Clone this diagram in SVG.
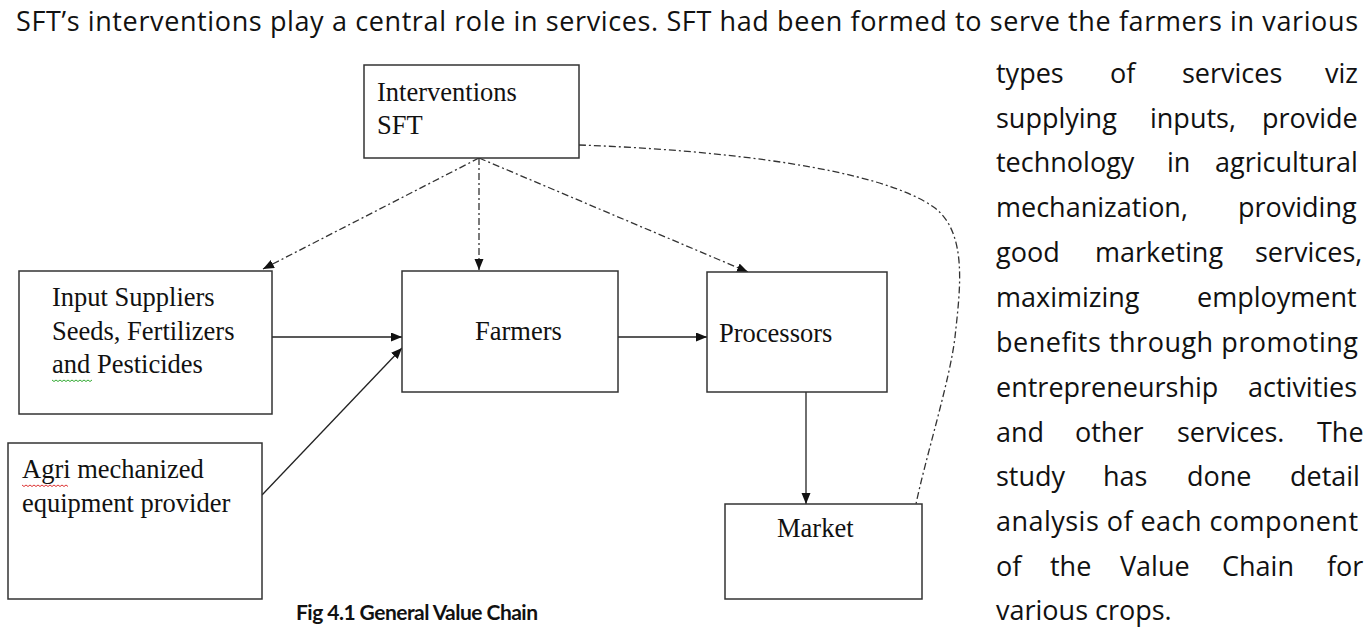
<svg xmlns="http://www.w3.org/2000/svg" width="1365" height="629" viewBox="0 0 1365 629">
<style>
.box{fill:#fff;stroke:#333;stroke-width:1.5}
.lbl{font-family:"Liberation Serif","Times New Roman",serif;font-size:26.5px;fill:#111}
.body{font-family:"Open Sans","Noto Sans",sans-serif;font-size:27px;fill:#111}
.cap{font-family:Lato,"Open Sans",sans-serif;font-size:21px;font-weight:bold;fill:#111}
.solid{fill:none;stroke:#222;stroke-width:1.3}
.dd{fill:none;stroke:#333;stroke-width:1.3;stroke-dasharray:7 3 2 3}
.sq{fill:none;stroke-width:1}
</style>
<defs>
<marker id="ah" markerUnits="userSpaceOnUse" markerWidth="12" markerHeight="10" refX="11" refY="4.5" orient="auto">
<path d="M0,0 L11,4.5 L0,9 z" fill="#111"/>
</marker>
</defs>
<rect width="1365" height="629" fill="#fff"/>

<g id="paragraph">
<text class="body" x="16" y="31" textLength="1342" lengthAdjust="spacing">SFT’s interventions play a central role in services. SFT had been formed to serve the farmers in various</text>
<text class="body" y="83"><tspan x="996">types</tspan><tspan x="1110">of</tspan><tspan x="1182">services</tspan><tspan x="1325">viz</tspan></text>
<text class="body" y="128"><tspan x="996">supplying</tspan><tspan x="1150">inputs,</tspan><tspan x="1262">provide</tspan></text>
<text class="body" y="172"><tspan x="996">technology</tspan><tspan x="1167">in</tspan><tspan x="1215">agricultural</tspan></text>
<text class="body" y="217"><tspan x="996">mechanization,</tspan><tspan x="1238">providing</tspan></text>
<text class="body" y="262"><tspan x="996">good</tspan><tspan x="1095">marketing</tspan><tspan x="1255">services,</tspan></text>
<text class="body" y="307"><tspan x="996">maximizing</tspan><tspan x="1197">employment</tspan></text>
<text class="body" x="996" y="352" textLength="362" lengthAdjust="spacing">benefits through promoting</text>
<text class="body" y="397"><tspan x="996">entrepreneurship</tspan><tspan x="1248">activities</tspan></text>
<text class="body" y="442"><tspan x="996">and</tspan><tspan x="1075">other</tspan><tspan x="1177">services.</tspan><tspan x="1317">The</tspan></text>
<text class="body" y="486"><tspan x="996">study</tspan><tspan x="1103">has</tspan><tspan x="1187">done</tspan><tspan x="1290">detail</tspan></text>
<text class="body" x="996" y="531" textLength="362" lengthAdjust="spacing">analysis of each component</text>
<text class="body" y="576"><tspan x="996">of</tspan><tspan x="1050">the</tspan><tspan x="1120">Value</tspan><tspan x="1222">Chain</tspan><tspan x="1327">for</tspan></text>
<text class="body" x="996" y="620">various crops.</text>
</g>

<g id="connectors">
<line class="dd" x1="479" y1="158" x2="263" y2="269" marker-end="url(#ah)"/>
<line class="dd" x1="479" y1="158" x2="479" y2="270" marker-end="url(#ah)"/>
<line class="dd" x1="479" y1="158" x2="748" y2="272" marker-end="url(#ah)"/>
<path class="dd" d="M579,145 C720,150 880,168 935,208 C968,234 960,290 955,337 C950,380 925,460 916,504"/>
<line class="solid" x1="272" y1="337" x2="402" y2="337" marker-end="url(#ah)"/>
<line class="solid" x1="262" y1="495" x2="402" y2="348" marker-end="url(#ah)"/>
<line class="solid" x1="618" y1="337" x2="707" y2="337" marker-end="url(#ah)"/>
<line class="solid" x1="806" y1="392" x2="806" y2="504" marker-end="url(#ah)"/>
</g>

<g id="interventions">
<rect class="box" x="364" y="65" width="215" height="93"/>
<text class="lbl" x="377" y="101">Interventions</text>
<text class="lbl" x="377" y="134">SFT</text>
</g>

<g id="input-suppliers">
<rect class="box" x="19" y="271" width="253" height="143"/>
<text class="lbl" x="52" y="306">Input Suppliers</text>
<text class="lbl" x="52" y="340">Seeds, Fertilizers</text>
<text class="lbl" x="52" y="373">and Pesticides</text>
<path class="sq" stroke="#3a3" d="M52,380 l2,1.5 l2,-1.5 l2,1.5 l2,-1.5 l2,1.5 l2,-1.5 l2,1.5 l2,-1.5 l2,1.5 l2,-1.5 l2,1.5 l2,-1.5 l2,1.5 l2,-1.5 l2,1.5 l2,-1.5 l2,1.5 l2,-1.5 l2,1.5 l2,-1.5"/>
</g>

<g id="agri-equipment">
<rect class="box" x="8" y="443" width="254" height="156"/>
<text class="lbl" x="22" y="478">Agri mechanized</text>
<text class="lbl" x="22" y="512">equipment provider</text>
<path class="sq" stroke="#d33" d="M22,485 l2,1.5 l2,-1.5 l2,1.5 l2,-1.5 l2,1.5 l2,-1.5 l2,1.5 l2,-1.5 l2,1.5 l2,-1.5 l2,1.5 l2,-1.5 l2,1.5 l2,-1.5 l2,1.5 l2,-1.5 l2,1.5 l2,-1.5 l2,1.5 l2,-1.5 l2,1.5 l2,-1.5 l2,1.5"/>
</g>

<g id="farmers">
<rect class="box" x="402" y="271" width="216" height="121"/>
<text class="lbl" x="475" y="340">Farmers</text>
</g>

<g id="processors">
<rect class="box" x="707" y="272" width="180" height="120"/>
<text class="lbl" x="719" y="342">Processors</text>
</g>

<g id="market">
<rect class="box" x="725" y="504" width="197" height="95"/>
<text class="lbl" x="777" y="537">Market</text>
</g>

<text class="cap" x="296" y="620" textLength="242" lengthAdjust="spacing">Fig 4.1 General Value Chain</text>
</svg>
